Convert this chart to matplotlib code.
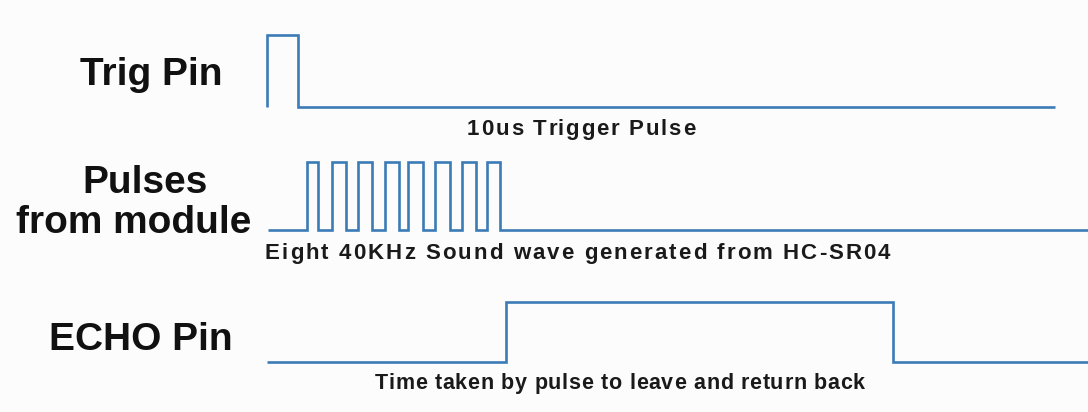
import numpy as np
import matplotlib
matplotlib.use("Agg")
import matplotlib.pyplot as plt
from matplotlib.font_manager import FontProperties

# signal edges (time axis in the picture's horizontal units), first edge is a rise
trig_edges = [267, 298]
pulse_edges = [307, 318, 332, 346, 358, 372, 385, 399,
               408, 423, 435, 450, 462, 476, 487, 500]
echo_edges = [506, 893]

signal_labels = ["Trig Pin", "Pulses\nfrom module", "ECHO Pin"]
notes = ["10us Trigger Pulse",
         "Eight 40KHz Sound wave generated from HC-SR04",
         "Time taken by pulse to leave and return back"]

LINE = "#3b7cb6"


def step_wave(start, end, edges):
    xs = [start]
    ys = [0]
    lvl = 0
    for e in edges:
        xs += [e, e]
        ys += [lvl, 1 - lvl]
        lvl = 1 - lvl
    xs.append(end)
    ys.append(lvl)
    return np.array(xs), np.array(ys)


fig = plt.figure(figsize=(10.88, 4.12), dpi=100, facecolor="#fbfcfb")
ax = fig.add_axes([0, 0, 1, 1])
ax.set_xlim(0, 1088)
ax.set_ylim(412, 0)
ax.axis("off")
renderer = fig.canvas.get_renderer()

# (start, end, edges, low y, high y)
tracks = [
    (267, 1055, trig_edges, 107, 35),
    (268, 1090, pulse_edges, 230, 162),
    (267, 1090, echo_edges, 362, 302),
]
for start, end, edges, lo, hi in tracks:
    x, lv = step_wave(start, end, edges)
    ax.plot(x, lo + lv * (hi - lo), color=LINE, lw=1.9,
            solid_joinstyle="miter", solid_capstyle="butt")

big = dict(family="Liberation Sans", weight="bold", color="#111111",
           fontsize=28, va="baseline", ha="center")
ax.text(151, 85, signal_labels[0], **big)
p1, p2 = signal_labels[1].split("\n")
ax.text(145, 193, p1, **big)
ax.text(134, 233, p2, **big)
ax.text(141, 350, signal_labels[2], **big)


def spaced_text(x0, x1, y, s, size):
    # letter-spaced caption stretched between x0 and x1 (pixels)
    prop = FontProperties(family="Liberation Sans", weight="bold", size=size)
    w = lambda t: renderer.get_text_width_height_descent(t, prop, ismath=False)[0] if t else 0
    track = (x1 - x0 - w(s)) / (len(s) - 1)
    for i, ch in enumerate(s):
        if ch == " ":
            continue
        ax.text(x0 + w(s[:i]) + i * track, y, ch, fontproperties=prop,
                color="#1a1a1a", va="baseline", ha="left")


spaced_text(467, 695, 135, notes[0], 16)
spaced_text(265, 890, 259, notes[1], 16)
spaced_text(375, 865, 389, notes[2], 15.5)

fig.savefig("out.png", dpi=100, facecolor=fig.get_facecolor())
